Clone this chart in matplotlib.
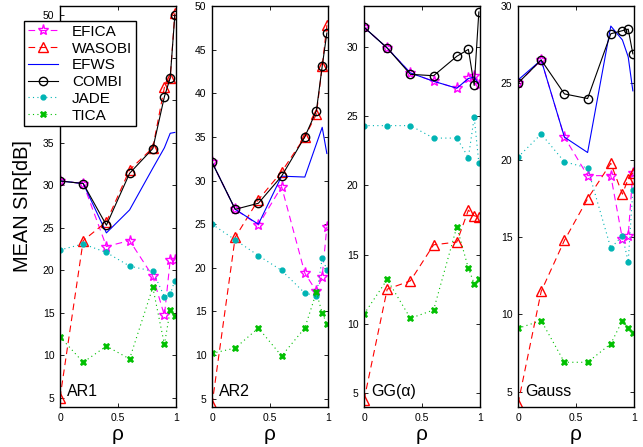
import matplotlib
matplotlib.use("Agg")
import matplotlib.pyplot as plt

plt.rcParams["font.family"] = ["Liberation Sans", "DejaVu Sans"]

rho = [0, 0.2, 0.4, 0.6, 0.8, 0.9, 0.95, 0.99]

panel_names = ["AR1", "AR2", "GG(\u03b1)", "Gauss"]
methods = ["EFICA", "WASOBI", "EFWS", "COMBI", "JADE", "TICA"]

# AR1
ar1_efica = [30.5, 30.2, 22.8, 23.5, 19.3, 14.7, 21.2, 21.2]
ar1_wasobi = [5.0, 23.5, 25.7, 31.8, 34.4, 41.5, 42.6, 50.2]
ar1_efws = [30.5, 30.2, 24.4, 27.1, 32.0, 34.4, 36.1, 36.2]
ar1_combi = [30.5, 30.2, 25.3, 31.4, 34.3, 40.4, 42.6, 50.0]
ar1_jade = [22.4, 23.1, 22.1, 20.5, 19.9, 16.9, 17.2, 18.8]
ar1_tica = [12.2, 9.2, 11.1, 9.6, 18.0, 11.3, 15.3, 14.6]

# AR2
ar2_efica = [32.1, 26.7, 24.9, 29.3, 19.4, 17.3, 19.0, 24.7]
ar2_wasobi = [4.3, 23.5, 27.8, 31.0, 35.0, 37.6, 43.1, 47.8]
ar2_efws = [32.1, 26.7, 25.0, 30.5, 30.4, 34.2, 36.1, 33.1]
ar2_combi = [32.1, 26.7, 27.4, 30.5, 35.0, 38.0, 43.1, 46.9]
ar2_jade = [25.0, 23.2, 21.4, 19.7, 17.1, 16.8, 21.1, 19.8]
ar2_tica = [10.2, 10.8, 13.1, 9.9, 13.1, 17.2, 14.8, 13.6]

# GG(alpha)
gg_efica = [31.4, 29.9, 28.1, 27.5, 27.0, 27.7, 27.9, 27.2]
gg_wasobi = [4.5, 12.5, 13.1, 15.7, 15.9, 18.2, 17.8, 17.7]
gg_efws = [31.4, 29.9, 28.1, 27.5, 27.0, 27.7, 27.8, 27.3]
gg_combi = [31.4, 29.9, 28.0, 27.9, 29.3, 29.8, 27.2, 32.5]
gg_jade = [24.3, 24.3, 24.3, 23.4, 23.4, 22.0, 24.9, 21.6]
gg_tica = [10.7, 13.2, 10.4, 11.0, 17.0, 14.0, 12.9, 13.2]

# Gauss
gauss_efica = [25.0, 26.5, 21.5, 19.0, 19.0, 14.9, 15.1, 19.2]
gauss_wasobi = [4.2, 11.5, 14.8, 17.5, 19.8, 17.8, 18.8, 19.2]
gauss_efws = [25.2, 26.5, 21.5, 20.5, 28.7, 27.8, 26.7, 24.5]
gauss_combi = [25.0, 26.5, 24.3, 24.0, 28.2, 28.4, 28.5, 26.9]
gauss_jade = [20.2, 21.7, 19.9, 19.5, 14.3, 15.1, 13.4, 18.1]
gauss_tica = [9.1, 9.6, 6.9, 6.9, 8.1, 9.6, 9.1, 8.8]

panel_data = [
    [ar1_efica, ar1_wasobi, ar1_efws, ar1_combi, ar1_jade, ar1_tica],
    [ar2_efica, ar2_wasobi, ar2_efws, ar2_combi, ar2_jade, ar2_tica],
    [gg_efica, gg_wasobi, gg_efws, gg_combi, gg_jade, gg_tica],
    [gauss_efica, gauss_wasobi, gauss_efws, gauss_combi, gauss_jade, gauss_tica],
]
ylims = [(3.95, 51.05), (4.05, 50), (4.0, 32.93), (4.0, 30)]
yticks = [range(5, 51, 5), range(5, 51, 5), range(5, 31, 5), range(5, 31, 5)]

dash = (0, (6, 4))
dots = (0, (1, 3))
styles = {
    "EFICA": dict(color="#ff00ff", ls=dash, marker="*", mfc="none", ms=8),
    "WASOBI": dict(color="#ff0000", ls=dash, marker="^", mfc="none", ms=7),
    "EFWS": dict(color="#0000ff", ls="-"),
    "COMBI": dict(color="#000000", ls="-", marker="o", mfc="none", ms=6),
    "JADE": dict(color="#00b4b4", ls=dots, marker=".", ms=7),
    "TICA": dict(color="#00c000", ls=dots, marker="X", ms=5, mew=0.5),
}

fig = plt.figure(figsize=(6.43, 4.47), dpi=100)
lefts = [60, 212, 364, 518]
W, H = 643, 447
handles = []
for i, name in enumerate(panel_names):
    ax = fig.add_axes([lefts[i] / W, 1 - 407 / H, 116 / W, 401 / H])
    for m, vals in zip(methods, panel_data[i]):
        line, = ax.plot(rho, vals, lw=0.8, label=m, **styles[m])
        if i == 0:
            handles.append(line)
    ax.set_xlim(0, 1)
    ax.set_ylim(*ylims[i])
    ax.set_xticks([0, 0.5, 1])
    ax.set_xticklabels(["0", "0.5", "1"])
    ax.set_yticks(list(yticks[i]))
    ax.tick_params(direction="in", top=True, right=True, labelsize=7.5,
                   length=3, width=0.6, pad=4)
    for s in ax.spines.values():
        s.set_linewidth(1.0)
    ax.set_xlabel("\u03c1", fontsize=15, labelpad=2)
    ax.text(0.06, 0.02, name, transform=ax.transAxes, fontsize=11.5,
            ha="left", va="bottom")
    if i == 0:
        ax.set_ylabel("MEAN SIR[dB]", fontsize=14.4)
        ax.yaxis.set_label_coords(-0.245, 0.5)

leg = fig.legend(handles=handles, loc="upper left",
                 bbox_to_anchor=(24 / W, 1 - 21 / H), borderaxespad=0,
                 fontsize=11, fancybox=False, framealpha=1, edgecolor="black",
                 handlelength=2.0, labelspacing=0.18, borderpad=0.25,
                 handletextpad=0.9)
leg.get_frame().set_linewidth(1.0)

fig.savefig("out.png", dpi=100)
